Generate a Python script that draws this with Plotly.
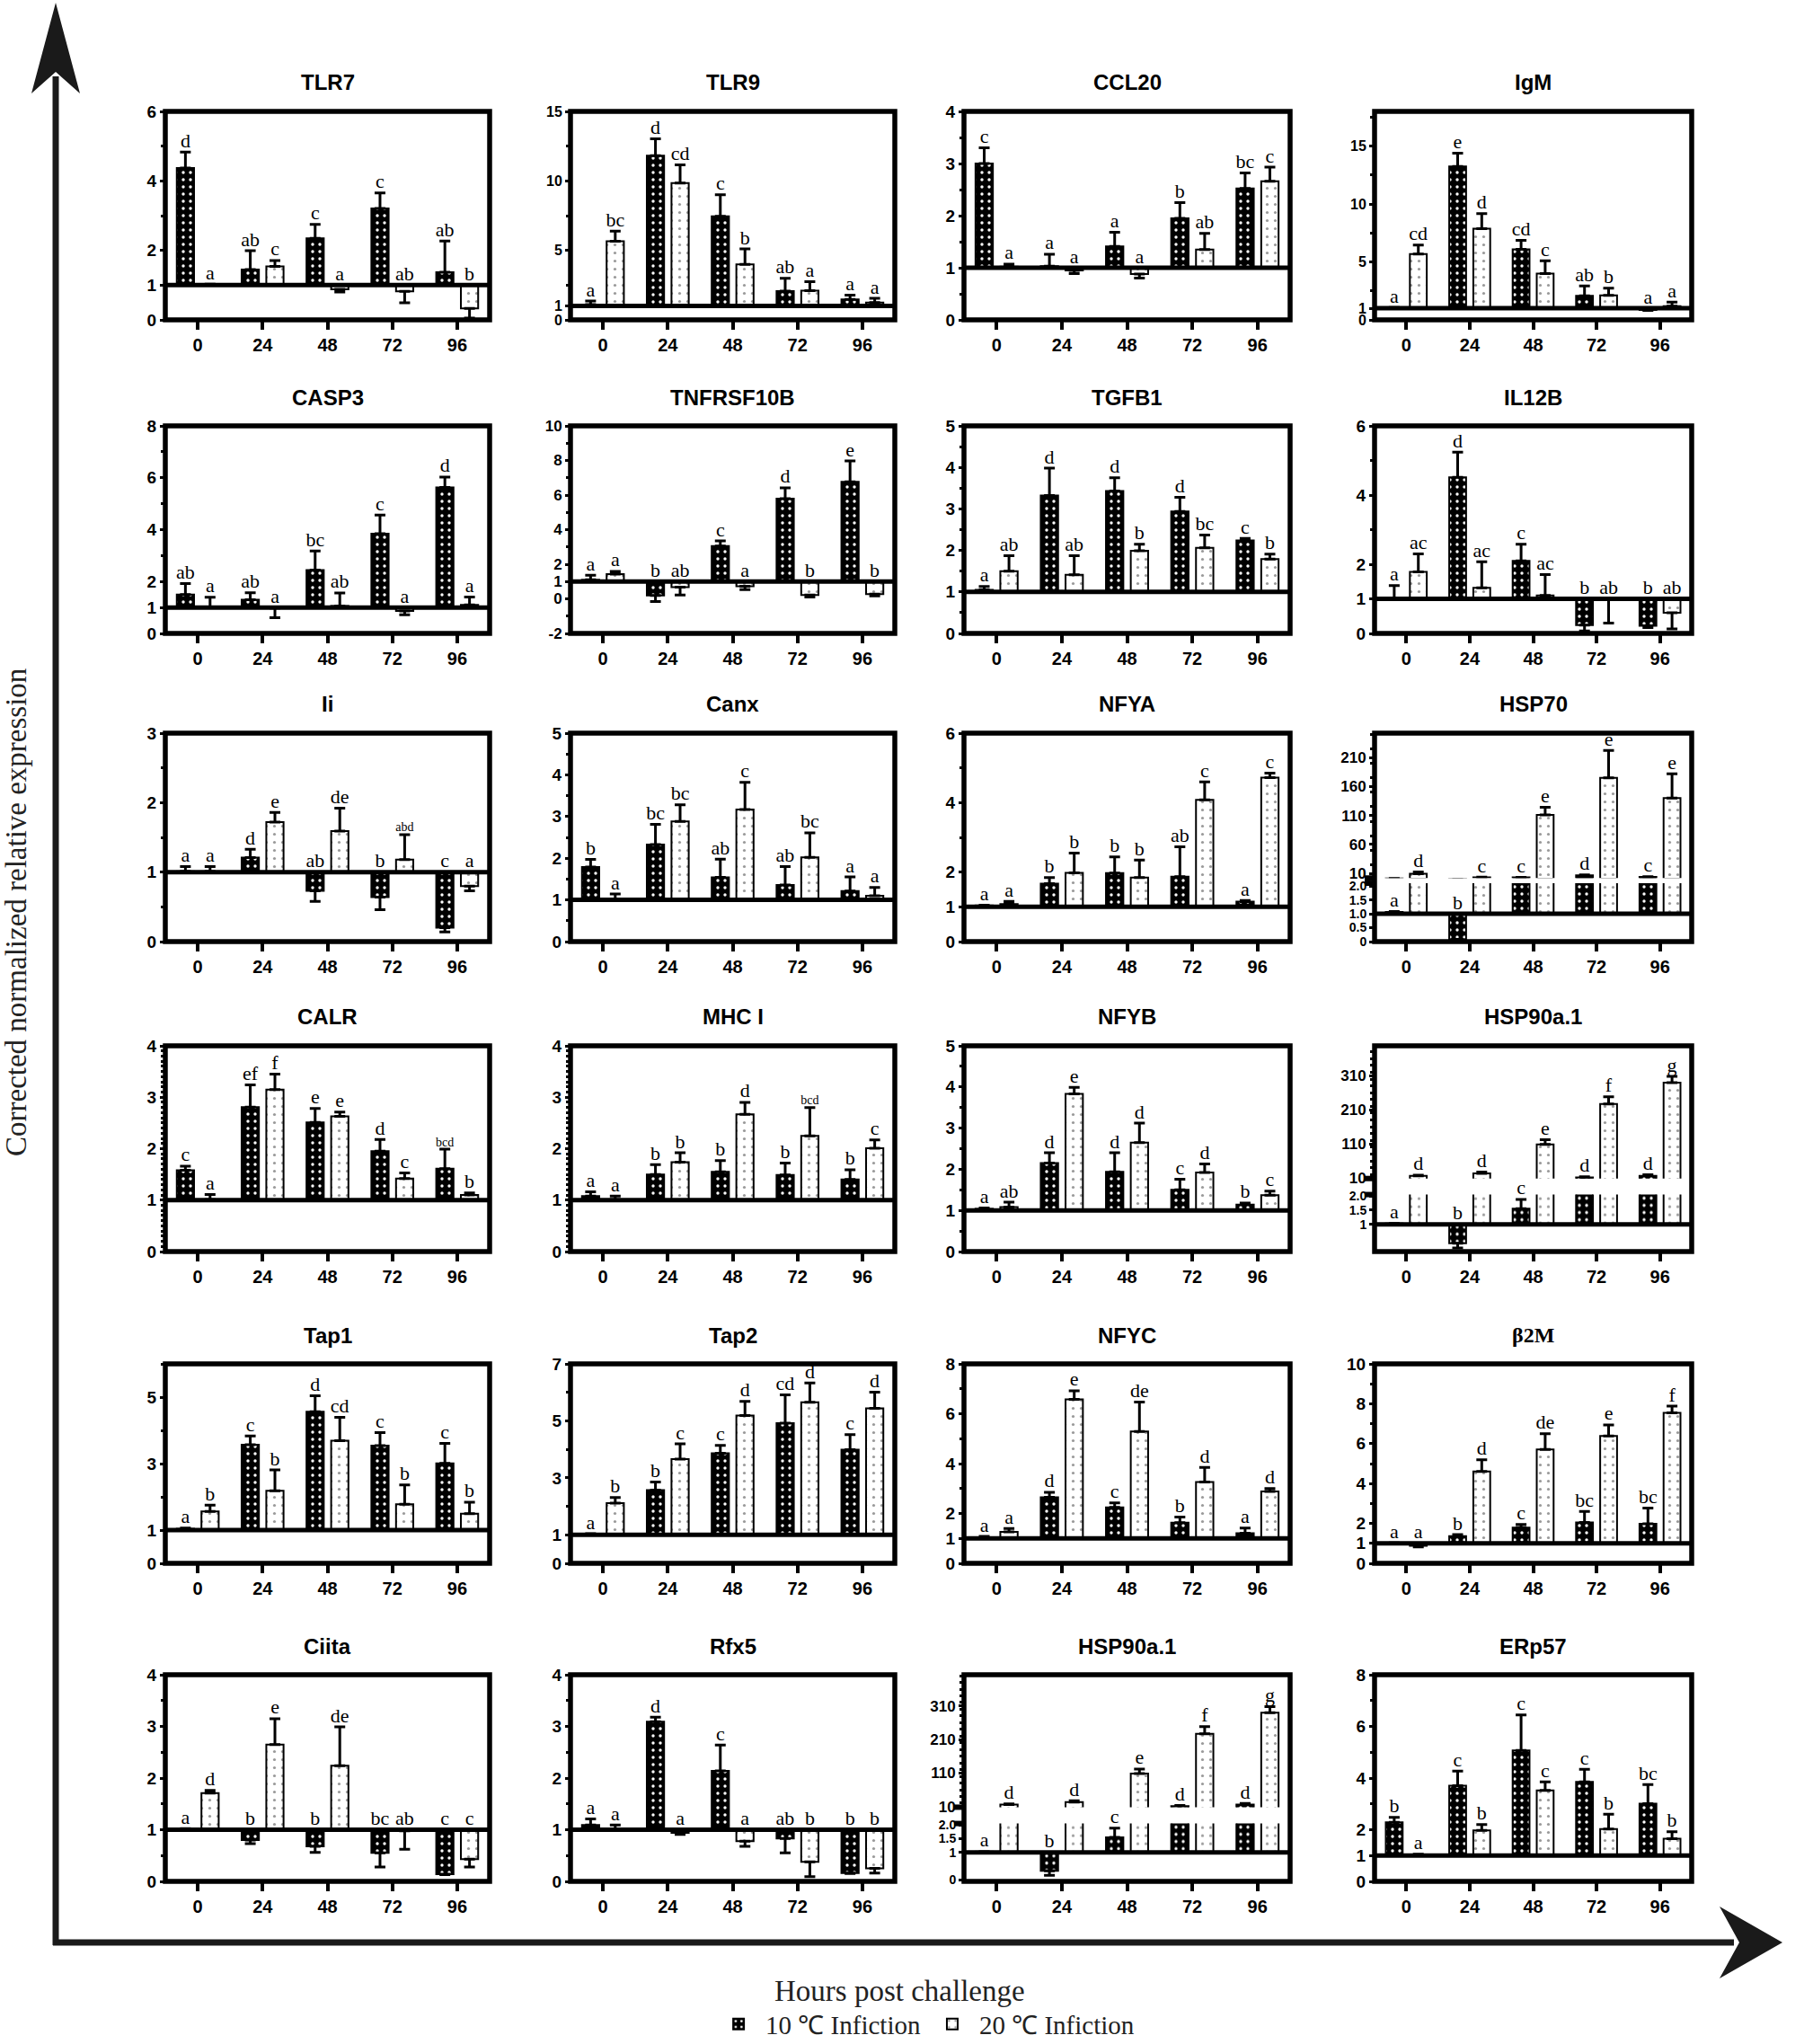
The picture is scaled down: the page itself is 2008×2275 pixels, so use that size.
import plotly.graph_objects as go

W, H = 2008, 2275
HOURS = ["0", "24", "48", "72", "96"]

# ======================================================
# Data: mean, error and letters per gene (10 C / 20 C)
# ======================================================
TLR7_10 = [4.37, 1.45, 2.35, 3.21, 1.37]
TLR7_10_ERR = [0.46, 0.54, 0.40, 0.44, 0.90]
TLR7_10_SIG = ["d", "ab", "c", "c", "ab"]
TLR7_20 = [1.03, 1.54, 0.88, 0.82, 0.33]
TLR7_20_ERR = [0.0, 0.17, 0.08, 0.33, 0.28]
TLR7_20_SIG = ["a", "c", "a", "ab", "b"]

TLR9_10 = [1.1, 11.82, 7.45, 2.07, 1.47]
TLR9_10_ERR = [0.25, 1.2, 1.55, 0.92, 0.3]
TLR9_10_SIG = ["a", "d", "c", "ab", "a"]
TLR9_20 = [5.65, 9.85, 4.0, 2.1, 1.25]
TLR9_20_ERR = [0.74, 1.3, 1.1, 0.65, 0.3]
TLR9_20_SIG = ["bc", "cd", "b", "a", "a"]

CCL20_10 = [3.0, 1.03, 1.41, 1.95, 2.52]
CCL20_10_ERR = [0.3, 0.23, 0.27, 0.3, 0.3]
CCL20_10_SIG = ["c", "a", "a", "b", "bc"]
CCL20_20 = [1.02, 0.95, 0.88, 1.35, 2.66]
CCL20_20_ERR = [0.05, 0.06, 0.08, 0.31, 0.27]
CCL20_20_SIG = ["a", "a", "a", "ab", "c"]

IGM_10 = [1.05, 13.25, 6.1, 2.07, 0.85]
IGM_10_ERR = [0.02, 1.15, 0.77, 0.85, 0.03]
IGM_10_SIG = ["a", "e", "cd", "ab", "a"]
IGM_20 = [5.68, 7.88, 4.0, 2.12, 1.19]
IGM_20_ERR = [0.78, 1.3, 1.1, 0.62, 0.35]
IGM_20_SIG = ["cd", "d", "c", "b", "a"]

CASP3_10 = [1.5, 1.3, 2.44, 3.84, 5.63]
CASP3_10_ERR = [0.42, 0.27, 0.74, 0.72, 0.4]
CASP3_10_SIG = ["ab", "ab", "bc", "c", "d"]
CASP3_20 = [1.01, 0.98, 1.06, 0.87, 1.1]
CASP3_20_ERR = [0.38, 0.37, 0.5, 0.15, 0.3]
CASP3_20_SIG = ["a", "a", "ab", "a", "a"]

TNF_10 = [1.1, 0.2, 3.05, 5.79, 6.77]
TNF_10_ERR = [0.26, 0.35, 0.3, 0.63, 1.2]
TNF_10_SIG = ["a", "b", "c", "d", "e"]
TNF_20 = [1.43, 0.67, 0.73, 0.22, 0.27]
TNF_20_ERR = [0.16, 0.45, 0.2, 0.12, 0.1]
TNF_20_SIG = ["a", "ab", "a", "b", "b"]

TGFB1_10 = [1.05, 3.32, 3.43, 2.94, 2.24]
TGFB1_10_ERR = [0.08, 0.66, 0.32, 0.34, 0.05]
TGFB1_10_SIG = ["a", "d", "d", "d", "c"]
TGFB1_20 = [1.5, 1.41, 1.99, 2.06, 1.79]
TGFB1_20_ERR = [0.37, 0.46, 0.16, 0.31, 0.12]
TGFB1_20_SIG = ["ab", "ab", "b", "bc", "b"]

IL12B_10 = [1.02, 4.51, 2.1, 0.24, 0.22]
IL12B_10_ERR = [0.36, 0.73, 0.48, 0.17, 0.05]
IL12B_10_SIG = ["a", "d", "c", "b", "b"]
IL12B_20 = [1.78, 1.32, 1.1, 0.98, 0.6]
IL12B_20_ERR = [0.52, 0.75, 0.6, 0.68, 0.47]
IL12B_20_SIG = ["ac", "ac", "ac", "ab", "ab"]

II_10 = [1.01, 1.21, 0.73, 0.64, 0.2]
II_10_ERR = [0.07, 0.12, 0.15, 0.18, 0.06]
II_10_SIG = ["a", "d", "ab", "b", "c"]
II_20 = [1.01, 1.72, 1.59, 1.18, 0.8]
II_20_ERR = [0.07, 0.14, 0.33, 0.36, 0.07]
II_20_SIG = ["a", "e", "de", "abd", "a"]

CANX_10 = [1.79, 2.33, 1.54, 1.36, 1.21]
CANX_10_ERR = [0.18, 0.48, 0.44, 0.44, 0.34]
CANX_10_SIG = ["b", "bc", "ab", "ab", "a"]
CANX_20 = [1.01, 2.88, 3.17, 2.02, 1.1]
CANX_20_ERR = [0.13, 0.4, 0.65, 0.59, 0.2]
CANX_20_SIG = ["a", "bc", "c", "bc", "a"]

NFYA_10 = [1.04, 1.67, 1.97, 1.87, 1.15]
NFYA_10_ERR = [0.01, 0.17, 0.47, 0.86, 0.03]
NFYA_10_SIG = ["a", "b", "b", "ab", "a"]
NFYA_20 = [1.08, 1.98, 1.84, 4.08, 4.72]
NFYA_20_ERR = [0.08, 0.57, 0.51, 0.52, 0.13]
NFYA_20_SIG = ["a", "b", "b", "c", "c"]

HSP70_10 = [1.07, 0.08, 3.0, 6.5, 4.0]
HSP70_10_ERR = [0.01, 0.03, 0.3, 1.0, 0.5]
HSP70_10_SIG = ["a", "b", "c", "d", "c"]
HSP70_20 = [9.5, 3.0, 111, 175, 140]
HSP70_20_ERR = [3, 0.4, 13, 47, 42]
HSP70_20_SIG = ["d", "c", "e", "e", "e"]

CALR_10 = [1.58, 2.81, 2.51, 1.95, 1.61]
CALR_10_ERR = [0.08, 0.43, 0.27, 0.23, 0.38]
CALR_10_SIG = ["c", "ef", "e", "d", "bcd"]
CALR_20 = [1.01, 3.15, 2.63, 1.42, 1.1]
CALR_20_ERR = [0.1, 0.3, 0.08, 0.11, 0.04]
CALR_20_SIG = ["a", "f", "e", "c", "b"]

MHC_10 = [1.08, 1.5, 1.55, 1.49, 1.4]
MHC_10_ERR = [0.08, 0.19, 0.22, 0.23, 0.19]
MHC_10_SIG = ["a", "b", "b", "b", "b"]
MHC_20 = [1.01, 1.74, 2.67, 2.25, 2.01]
MHC_20_ERR = [0.07, 0.18, 0.23, 0.55, 0.16]
MHC_20_SIG = ["a", "b", "d", "bcd", "c"]

NFYB_10 = [1.04, 2.15, 1.94, 1.5, 1.14]
NFYB_10_ERR = [0.02, 0.25, 0.46, 0.26, 0.04]
NFYB_10_SIG = ["a", "d", "d", "c", "b"]
NFYB_20 = [1.08, 3.83, 2.65, 1.92, 1.37]
NFYB_20_ERR = [0.12, 0.16, 0.47, 0.21, 0.1]
NFYB_20_SIG = ["ab", "e", "d", "d", "c"]

HSP90_10 = [1.03, 0.33, 1.55, 11, 16]
HSP90_10_ERR = [0.0, 0.16, 0.33, 2, 3]
HSP90_10_SIG = ["a", "b", "c", "d", "d"]
HSP90_20 = [16, 23, 108, 227, 290]
HSP90_20_ERR = [2, 4, 14, 21, 18]
HSP90_20_SIG = ["d", "d", "e", "f", "g"]

TAP1_10 = [1.04, 3.57, 4.56, 3.54, 3.01]
TAP1_10_ERR = [0.02, 0.26, 0.48, 0.39, 0.6]
TAP1_10_SIG = ["a", "c", "d", "c", "c"]
TAP1_20 = [1.56, 2.18, 3.69, 1.78, 1.49]
TAP1_20_ERR = [0.19, 0.63, 0.7, 0.58, 0.35]
TAP1_20_SIG = ["b", "b", "cd", "b", "b"]

TAP2_10 = [1.03, 2.57, 3.86, 4.92, 3.99]
TAP2_10_ERR = [0.01, 0.28, 0.28, 0.99, 0.53]
TAP2_10_SIG = ["a", "b", "c", "cd", "c"]
TAP2_20 = [2.11, 3.66, 5.19, 5.65, 5.44]
TAP2_20_ERR = [0.2, 0.53, 0.49, 0.68, 0.57]
TAP2_20_SIG = ["b", "c", "d", "d", "d"]

NFYC_10 = [1.02, 2.65, 2.24, 1.63, 1.21]
NFYC_10_ERR = [0.06, 0.2, 0.18, 0.23, 0.2]
NFYC_10_SIG = ["a", "d", "c", "b", "a"]
NFYC_20 = [1.26, 6.58, 5.29, 3.26, 2.88]
NFYC_20_ERR = [0.14, 0.34, 1.18, 0.59, 0.12]
NFYC_20_SIG = ["a", "e", "de", "d", "d"]

B2M_10 = [1.02, 1.36, 1.79, 2.05, 1.98]
B2M_10_ERR = [0.01, 0.08, 0.16, 0.55, 0.79]
B2M_10_SIG = ["a", "b", "c", "bc", "bc"]
B2M_20 = [0.88, 4.61, 5.71, 6.39, 7.54]
B2M_20_ERR = [0.06, 0.58, 0.79, 0.55, 0.34]
B2M_20_SIG = ["a", "d", "de", "e", "f"]

CIITA_10 = [1.02, 0.8, 0.68, 0.55, 0.14]
CIITA_10_ERR = [0.0, 0.07, 0.12, 0.27, 0.01]
CIITA_10_SIG = ["a", "b", "b", "bc", "c"]
CIITA_20 = [1.71, 2.65, 2.24, 0.98, 0.43]
CIITA_20_ERR = [0.05, 0.5, 0.75, 0.36, 0.15]
CIITA_20_SIG = ["d", "e", "de", "ab", "c"]

RFX5_10 = [1.09, 3.09, 2.14, 0.83, 0.16]
RFX5_10_ERR = [0.12, 0.09, 0.5, 0.28, 0.01]
RFX5_10_SIG = ["a", "d", "c", "ab", "b"]
RFX5_20 = [1.01, 0.94, 0.78, 0.38, 0.25]
RFX5_20_ERR = [0.08, 0.03, 0.1, 0.29, 0.09]
RFX5_20_SIG = ["a", "a", "a", "b", "b"]

ERP57_10 = [2.29, 3.7, 5.07, 3.85, 3.01]
ERP57_10_ERR = [0.19, 0.57, 1.37, 0.49, 0.74]
ERP57_10_SIG = ["b", "c", "c", "c", "bc"]
ERP57_20 = [1.03, 1.97, 3.52, 2.03, 1.65]
ERP57_20_ERR = [0.02, 0.23, 0.33, 0.57, 0.27]
ERP57_20_SIG = ["a", "b", "c", "b", "b"]

PANELS = [
    ("TLR7", TLR7_10, TLR7_10_ERR, TLR7_10_SIG, TLR7_20, TLR7_20_ERR, TLR7_20_SIG),
    ("TLR9", TLR9_10, TLR9_10_ERR, TLR9_10_SIG, TLR9_20, TLR9_20_ERR, TLR9_20_SIG),
    ("CCL20", CCL20_10, CCL20_10_ERR, CCL20_10_SIG, CCL20_20, CCL20_20_ERR, CCL20_20_SIG),
    ("IgM", IGM_10, IGM_10_ERR, IGM_10_SIG, IGM_20, IGM_20_ERR, IGM_20_SIG),
    ("CASP3", CASP3_10, CASP3_10_ERR, CASP3_10_SIG, CASP3_20, CASP3_20_ERR, CASP3_20_SIG),
    ("TNFRSF10B", TNF_10, TNF_10_ERR, TNF_10_SIG, TNF_20, TNF_20_ERR, TNF_20_SIG),
    ("TGFB1", TGFB1_10, TGFB1_10_ERR, TGFB1_10_SIG, TGFB1_20, TGFB1_20_ERR, TGFB1_20_SIG),
    ("IL12B", IL12B_10, IL12B_10_ERR, IL12B_10_SIG, IL12B_20, IL12B_20_ERR, IL12B_20_SIG),
    ("Ii", II_10, II_10_ERR, II_10_SIG, II_20, II_20_ERR, II_20_SIG),
    ("Canx", CANX_10, CANX_10_ERR, CANX_10_SIG, CANX_20, CANX_20_ERR, CANX_20_SIG),
    ("NFYA", NFYA_10, NFYA_10_ERR, NFYA_10_SIG, NFYA_20, NFYA_20_ERR, NFYA_20_SIG),
    ("HSP70", HSP70_10, HSP70_10_ERR, HSP70_10_SIG, HSP70_20, HSP70_20_ERR, HSP70_20_SIG),
    ("CALR", CALR_10, CALR_10_ERR, CALR_10_SIG, CALR_20, CALR_20_ERR, CALR_20_SIG),
    ("MHC I", MHC_10, MHC_10_ERR, MHC_10_SIG, MHC_20, MHC_20_ERR, MHC_20_SIG),
    ("NFYB", NFYB_10, NFYB_10_ERR, NFYB_10_SIG, NFYB_20, NFYB_20_ERR, NFYB_20_SIG),
    ("HSP90a.1", HSP90_10, HSP90_10_ERR, HSP90_10_SIG, HSP90_20, HSP90_20_ERR, HSP90_20_SIG),
    ("Tap1", TAP1_10, TAP1_10_ERR, TAP1_10_SIG, TAP1_20, TAP1_20_ERR, TAP1_20_SIG),
    ("Tap2", TAP2_10, TAP2_10_ERR, TAP2_10_SIG, TAP2_20, TAP2_20_ERR, TAP2_20_SIG),
    ("NFYC", NFYC_10, NFYC_10_ERR, NFYC_10_SIG, NFYC_20, NFYC_20_ERR, NFYC_20_SIG),
    ("β2M", B2M_10, B2M_10_ERR, B2M_10_SIG, B2M_20, B2M_20_ERR, B2M_20_SIG),
    ("Ciita", CIITA_10, CIITA_10_ERR, CIITA_10_SIG, CIITA_20, CIITA_20_ERR, CIITA_20_SIG),
    ("Rfx5", RFX5_10, RFX5_10_ERR, RFX5_10_SIG, RFX5_20, RFX5_20_ERR, RFX5_20_SIG),
    ("HSP90a.1", HSP90_10, HSP90_10_ERR, HSP90_10_SIG, HSP90_20, HSP90_20_ERR, HSP90_20_SIG),
    ("ERp57", ERP57_10, ERP57_10_ERR, ERP57_10_SIG, ERP57_20, ERP57_20_ERR, ERP57_20_SIG),
]

# y axis per panel: range, tick values, minor step (broken axes have a lower + upper part)
AXES = [
    dict(range=[0, 6], tv=[0, 1, 2, 4, 6], minor=1),
    dict(range=[0, 15], tv=[0, 1, 5, 10, 15], minor=2.5, fs=16),
    dict(range=[0, 4], tv=[0, 1, 2, 3, 4], minor=0.5),
    dict(range=[0, 18], tv=[0, 1, 5, 10, 15], minor=2.5, fs=16),
    dict(range=[0, 8], tv=[0, 1, 2, 4, 6, 8], minor=1),
    dict(range=[-2, 10], tv=[-2, 0, 1, 2, 4, 6, 8, 10], minor=1, fs=17),
    dict(range=[0, 5], tv=[0, 1, 2, 3, 4, 5], minor=0.5),
    dict(range=[0, 6], tv=[0, 1, 2, 4, 6], minor=1),
    dict(range=[0, 3], tv=[0, 1, 2, 3], minor=0.5),
    dict(range=[0, 5], tv=[0, 1, 2, 3, 4, 5], minor=0.5),
    dict(range=[0, 6], tv=[0, 1, 2, 4, 6], minor=1),
    dict(range=[0, 2.1], tv=[0, 0.5, 1, 1.5, 2], tt=["0", "0.5", "1.0", "1.5", "2.0"], minor=None, fs=14,
         up_range=[2, 252], up_tv=[10, 60, 110, 160, 210], up_minor=25, split=(0.28, 0.025)),
    dict(range=[0, 4], tv=[0, 1, 2, 3, 4], minor=0.1),
    dict(range=[0, 4], tv=[0, 1, 2, 3, 4], minor=0.1),
    dict(range=[0, 5], tv=[0, 1, 2, 3, 4, 5], minor=0.5),
    dict(range=[0.04, 2.05], tv=[1, 1.5, 2], tt=["1", "1.5", "2.0"], minor=None, fs=14,
         up_range=[8, 398], up_tv=[10, 110, 210, 310], up_minor=20, split=(0.277, 0.078)),
    dict(range=[0, 6], tv=[0, 1, 3, 5], minor=1),
    dict(range=[0, 7], tv=[0, 1, 3, 5, 7], minor=1),
    dict(range=[0, 8], tv=[0, 1, 2, 4, 6, 8], minor=1),
    dict(range=[0, 10], tv=[0, 1, 2, 4, 6, 8, 10], minor=1),
    dict(range=[0, 4], tv=[0, 1, 2, 3, 4], minor=0.5),
    dict(range=[0, 4], tv=[0, 1, 2, 3, 4], minor=0.5),
    dict(range=[-0.05, 2.05], tv=[0, 1, 1.5, 2], tt=["0", "1", "1.5", "2.0"], minor=None, fs=14,
         up_range=[8, 403], up_tv=[10, 110, 210, 310], up_minor=20, split=(0.28, 0.079)),
    dict(range=[0, 8], tv=[0, 1, 2, 4, 6, 8], minor=1),
]

# panel frames in pixels
COL_X = [(184, 545), (635, 996), (1073, 1436), (1530, 1883)]
ROW_Y = [(124, 356), (474, 705), (816, 1048), (1164, 1393), (1518, 1740), (1864, 2094)]

STYLE = {
    "c10": dict(name="10 ℃ Infiction", bg="black", fg="white", size=8, sol=0.14),
    "c20": dict(name="20 ℃ Infiction", bg="white", fg="#9a9a9a", size=9, sol=0.1),
}
SANS = "Liberation Sans, Arial, sans-serif"
SERIF = "Liberation Serif, Times New Roman, serif"
TICKFONT = dict(family=SANS, size=19, color="black", weight="bold")


def px(x):
    return x / W


def py(y):
    return 1 - y / H


def bar_trace(vals, errs, grp, xa, ya, show):
    st = STYLE[grp]
    up = [e if v >= 1 else 0 for v, e in zip(vals, errs)]
    dn = [e if v < 1 else 0 for v, e in zip(vals, errs)]
    return go.Bar(
        x=HOURS, y=[v - 1 for v in vals], base=1,
        name=st["name"], legendgroup=grp, showlegend=show, offsetgroup=grp,
        xaxis=xa, yaxis=ya, hoverinfo="skip",
        marker=dict(color=st["bg"], line=dict(color="black", width=2),
                    pattern=dict(shape=".", bgcolor=st["bg"], fgcolor=st["fg"],
                                 size=st["size"], solidity=st["sol"], fillmode="replace")),
        error_y=dict(type="data", symmetric=False, array=up, arrayminus=dn,
                     color="black", thickness=3, width=6),
    )


def sig_trace(vals, errs, sig, grp, xa, ya, keep):
    ytop = [max(v + (e if v >= 1 else 0), 1) for v, e in zip(vals, errs)]
    txt = [s if keep(t) else "" for s, t in zip(sig, ytop)]
    return go.Scatter(
        x=HOURS, y=ytop, mode="text", text=txt, textposition="top center",
        textfont=dict(family=SERIF, size=[14 if len(s) > 2 else 22 for s in sig], color="black"),
        offsetgroup=grp, xaxis=xa, yaxis=ya, showlegend=False, cliponaxis=False, hoverinfo="skip",
    )


fig = go.Figure()
shapes, annos, axes = [], [], {}
extra = len(PANELS)

# ======================================================
# Build the 24 panels
# ======================================================
for k, (panel, cfg) in enumerate(zip(PANELS, AXES)):
    title, c10, e10, s10, c20, e20, s20 = panel
    r, c = divmod(k, 4)
    left, right = COL_X[c]
    top, bot = ROW_Y[r]
    n = k + 1
    xs = "x" if n == 1 else f"x{n}"
    ys = "y" if n == 1 else f"y{n}"
    d0, d1 = py(bot), py(top)

    axes["xaxis" if n == 1 else f"xaxis{n}"] = dict(
        domain=[px(left), px(right)], anchor=ys, type="category", range=[-0.5, 4.5],
        ticks="outside", ticklen=10, tickwidth=4, tickcolor="black", tickfont=dict(TICKFONT, size=20),
        showgrid=False, zeroline=False, showline=False,
    )

    def yaxis(dom, rng, tv, tt, minor, fs):
        a = dict(domain=dom, anchor=xs, range=rng, tickmode="array", tickvals=tv,
                 ticktext=tt if tt else [str(v) for v in tv],
                 ticks="outside", ticklen=5, tickwidth=3, tickcolor="black", tickfont=dict(TICKFONT, size=fs),
                 showgrid=False, zeroline=False, showline=False)
        if minor:
            a["minor"] = dict(dtick=minor, tick0=0, ticks="outside", ticklen=4, tickwidth=3,
                              tickcolor="black", showgrid=False)
        return a

    fs = cfg.get("fs", 19)
    broken = "up_range" in cfg
    if broken:
        fl, fg = cfg["split"]
        lo_top = d0 + (d1 - d0) * fl
        up_bot = lo_top + (d1 - d0) * fg
        axes["yaxis" if n == 1 else f"yaxis{n}"] = yaxis([d0, lo_top], cfg["range"], cfg["tv"], cfg.get("tt"), cfg["minor"], fs)
        extra += 1
        ys_up = f"y{extra}"
        axes[f"yaxis{extra}"] = yaxis([up_bot, d1], cfg["up_range"], cfg["up_tv"], None, cfg["up_minor"], 17)
        lo_max = cfg["range"][1]
        for ya, keep in ((ys, lambda t, m=lo_max: t <= m), (ys_up, lambda t, m=lo_max: t > m)):
            fig.add_trace(bar_trace(c10, e10, "c10", xs, ya, False))
            fig.add_trace(bar_trace(c20, e20, "c20", xs, ya, False))
            fig.add_trace(sig_trace(c10, e10, s10, "c10", xs, ya, keep))
            fig.add_trace(sig_trace(c20, e20, s20, "c20", xs, ya, keep))
        # break marks on the left axis
        for yy in (lo_top, up_bot):
            shapes.append(dict(type="line", xref="paper", yref="paper", x0=px(left - 11), x1=px(left),
                               y0=yy, y1=yy, line=dict(color="black", width=6)))
    else:
        axes["yaxis" if n == 1 else f"yaxis{n}"] = yaxis([d0, d1], cfg["range"], cfg["tv"], cfg.get("tt"), cfg["minor"], fs)
        fig.add_trace(bar_trace(c10, e10, "c10", xs, ys, k == 0))
        fig.add_trace(bar_trace(c20, e20, "c20", xs, ys, k == 0))
        fig.add_trace(sig_trace(c10, e10, s10, "c10", xs, ys, lambda t: True))
        fig.add_trace(sig_trace(c20, e20, s20, "c20", xs, ys, lambda t: True))

    # baseline at 1 and frame
    shapes.append(dict(type="line", xref=f"{xs} domain", yref=ys, x0=0, x1=1, y0=1, y1=1,
                       line=dict(color="black", width=5), layer="above"))
    shapes.append(dict(type="rect", xref="paper", yref="paper", x0=px(left), x1=px(right),
                       y0=d0, y1=d1, line=dict(color="black", width=5.5), layer="above"))

    tfont = dict(family=SANS, size=24, color="black", weight="bold")
    if title == "β2M":
        tfont = dict(family=SERIF, size=24, color="black", weight="bold")
    annos.append(dict(text=title, x=(px(left) + px(right)) / 2, y=py(top - 32), xref="paper", yref="paper",
                      showarrow=False, xanchor="center", yanchor="middle", font=tfont))

# ======================================================
# Big axis arrows and labels
# ======================================================
AX_X, AX_Y = 62, 2162
shapes.append(dict(type="line", xref="paper", yref="paper", x0=px(AX_X), x1=px(AX_X),
                   y0=py(AX_Y + 3), y1=py(85), line=dict(color="#1a1a1a", width=7)))
shapes.append(dict(type="line", xref="paper", yref="paper", x0=px(AX_X - 3), x1=px(1930),
                   y0=py(AX_Y), y1=py(AX_Y), line=dict(color="#1a1a1a", width=7)))


def pt(x, y):
    return f"{px(x):.5f},{py(y):.5f}"


shapes.append(dict(type="path", xref="paper", yref="paper", fillcolor="#1a1a1a", line=dict(width=0),
                   path=f"M{pt(AX_X, 3)} L{pt(AX_X + 27, 104)} L{pt(AX_X, 80)} L{pt(AX_X - 27, 104)} Z"))
shapes.append(dict(type="path", xref="paper", yref="paper", fillcolor="#1a1a1a", line=dict(width=0),
                   path=f"M{pt(1984, AX_Y)} L{pt(1914, AX_Y - 40)} L{pt(1936, AX_Y)} L{pt(1914, AX_Y + 40)} Z"))

annos.append(dict(text="Corrected normalized relative expression", x=px(18), y=py(1016),
                  xref="paper", yref="paper", showarrow=False, textangle=-90,
                  xanchor="center", yanchor="middle", font=dict(family=SERIF, size=33, color="#222")))
annos.append(dict(text="Hours post challenge", x=px(1001), y=py(2216), xref="paper", yref="paper",
                  showarrow=False, xanchor="center", yanchor="middle",
                  font=dict(family=SERIF, size=33, color="#222")))

fig.update_layout(
    width=W, height=H, margin=dict(l=0, r=0, t=0, b=0, autoexpand=False),
    paper_bgcolor="white", plot_bgcolor="white",
    barmode="group", bargap=0.24, bargroupgap=0.3,
    scattermode="group", scattergap=0.24,
    shapes=shapes, annotations=annos,
    legend=dict(orientation="h", x=0.513, xanchor="center", y=py(2253), yanchor="middle",
                font=dict(family=SERIF, size=29, color="#222"), bgcolor="rgba(0,0,0,0)",
                itemwidth=50, traceorder="normal"),
    **axes,
)

fig.write_html("out.html", config={"displayModeBar": False},
               post_script="document.body.style.margin='0px';")
